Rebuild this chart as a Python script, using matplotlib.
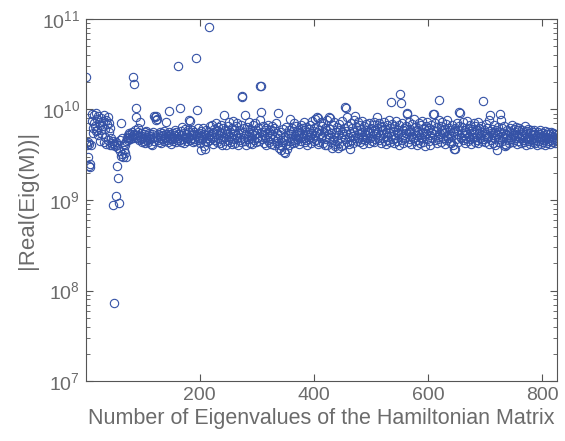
import matplotlib
matplotlib.use("Agg")
import matplotlib.pyplot as plt
import numpy as np
from matplotlib.ticker import LogLocator

plt.rcParams['font.family'] = ['Liberation Sans', 'DejaVu Sans']

# |Real(Eig(M))| in units of 1e9, index 1..826
eig_abs_e9 = [
    23, 4.3, 4.1, 4.4, 3.0, 2.4, 4.2, 2.3, 2.5, 4.0, 9.0, 7.5, 6.2, 5.5, 8.8, 7.0, 6.5, 5.8, 9.2, 7.8,
    6.0, 5.2, 8.5, 7.2, 6.8, 4.5, 5.9, 8.0, 6.6, 5.4, 7.4, 4.4, 8.6, 6.1, 5.0, 7.7, 4.2, 6.9, 8.2, 4.6,
    5.6, 7.1, 4.1, 6.3, 4.8, 4.3, 4.0, 0.88, 4.5, 0.072, 4.2, 3.9, 1.1, 4.4, 2.4, 4.1, 3.8, 1.75, 0.93, 4.6,
    3.5, 3.1, 7.1, 4.8, 3.2, 3.0, 4.2, 3.6, 4.0, 3.3, 3.0, 4.5, 4.8, 5.2, 4.6, 5.0, 5.5, 4.7, 5.3, 4.9,
    5.6, 5.1, 4.8, 23, 19, 5.4, 5.9, 10.3, 8.3, 5.2, 4.9, 5.7, 6.2, 4.6, 7.3, 5.0, 4.7, 5.5, 4.4, 5.1,
    4.8, 5.3, 4.5, 5.6, 4.3, 5.0, 5.8, 4.6, 5.2, 4.4, 4.9, 5.5, 4.7, 5.1, 4.2, 5.4, 4.0, 4.8, 5.7, 4.5,
    8.5, 8.2, 7.7, 8.4, 5.0, 7.8, 4.6, 5.3, 4.4, 5.6, 4.9, 5.1, 4.3, 5.5, 4.7, 5.2, 4.5, 5.8, 4.8, 5.0,
    7.3, 5.4, 4.6, 5.1, 4.4, 9.7, 5.6, 4.9, 5.3, 4.2, 5.0, 4.7, 5.5, 4.5, 5.2, 4.8, 6.0, 4.4, 5.7, 4.6,
    5.1, 30, 4.9, 5.4, 10.3, 4.6, 5.8, 4.4, 5.2, 6.4, 4.7, 5.5, 4.3, 5.0, 6.1, 4.8, 5.3, 4.5, 5.9, 4.9,
    5.6, 7.7, 4.6, 7.5, 5.2, 4.8, 6.0, 4.4, 5.4, 4.7, 5.7, 4.5, 5.1, 37, 9.9, 5.3, 4.6, 6.2, 4.9, 5.5,
    4.3, 5.8, 3.6, 5.0, 4.7, 6.3, 3.9, 5.4, 3.7, 4.5, 6.0, 5.2, 4.4, 5.7, 4.8, 82, 5.1, 6.5, 4.6, 5.3,
    6.8, 4.9, 5.6, 4.2, 6.1, 5.0, 4.6, 7.0, 5.4, 4.4, 5.9, 4.8, 6.4, 5.2, 4.3, 5.7, 6.7, 4.7, 5.5, 4.1,
    6.2, 8.7, 5.0, 4.5, 6.0, 5.3, 4.0, 5.8, 6.6, 4.6, 5.1, 7.2, 4.4, 5.6, 4.9, 6.3, 4.2, 5.4, 7.4, 4.7,
    5.9, 4.3, 6.5, 5.2, 4.8, 7.1, 4.1, 5.5, 6.0, 4.6, 5.0, 6.8, 4.4, 14, 13.6, 5.7, 4.9, 6.2, 4.5, 8.8,
    5.3, 4.0, 6.4, 5.1, 4.7, 7.3, 5.6, 4.3, 6.1, 4.9, 5.4, 4.2, 6.7, 5.8, 4.6, 5.2, 7.0, 4.4, 6.0, 5.5,
    4.8, 6.3, 5.0, 4.5, 7.6, 18, 9.3, 18.2, 5.7, 4.7, 6.5, 5.2, 4.3, 5.9, 4.9, 6.2, 4.1, 5.4, 6.8, 4.6,
    5.6, 4.4, 6.0, 5.1, 4.2, 6.6, 5.3, 4.7, 5.8, 4.0, 6.3, 5.0, 4.5, 7.0, 5.5, 4.3, 9.2, 4.8, 3.8, 5.2,
    4.1, 3.6, 5.7, 4.4, 3.9, 6.1, 4.6, 3.4, 3.3, 5.0, 4.2, 6.4, 3.7, 4.8, 5.5, 4.0, 6.0, 7.8, 4.5, 5.3,
    4.9, 6.2, 4.3, 5.8, 4.6, 7.1, 5.1, 4.4, 6.5, 5.6, 4.7, 5.2, 6.0, 4.2, 5.7, 4.9, 6.8, 4.5, 5.4, 6.3,
    4.8, 5.1, 7.2, 4.4, 5.9, 4.6, 6.4, 5.3, 4.1, 5.6, 6.1, 4.7, 5.0, 6.7, 4.3, 5.5, 7.5, 4.9, 5.8, 4.5,
    6.2, 5.2, 7.8, 4.6, 8.3, 5.7, 4.2, 8.0, 6.0, 4.4, 5.4, 7.3, 4.8, 6.6, 5.1, 4.3, 7.0, 5.6, 4.0, 6.3,
    4.7, 5.9, 7.6, 4.1, 5.3, 8.2, 4.9, 8.1, 6.1, 4.4, 5.5, 3.8, 6.8, 4.6, 5.0, 7.2, 4.2, 3.9, 5.7, 6.4,
    4.5, 3.8, 5.2, 6.9, 4.3, 6.0, 4.8, 3.9, 5.6, 7.4, 4.1, 5.3, 6.3, 10.7, 4.7, 10.5, 5.8, 8.3, 4.4, 6.6,
    5.0, 4.2, 3.7, 5.5, 7.0, 4.6, 6.2, 5.1, 4.3, 7.7, 5.7, 4.8, 8.5, 6.4, 4.5, 5.9, 7.2, 4.9, 5.3, 6.7,
    4.4, 5.6, 6.1, 4.7, 7.5, 5.0, 4.2, 6.5, 5.4, 4.6, 6.9, 5.2, 4.8, 6.0, 5.7, 4.3, 7.1, 5.5, 4.9, 6.3,
    5.1, 4.5, 6.8, 5.8, 4.4, 7.3, 6.0, 4.7, 5.4, 8.3, 6.2, 4.9, 5.6, 7.0, 4.6, 5.2, 6.6, 4.3, 5.9, 6.4,
    4.8, 5.3, 7.2, 4.5, 6.1, 5.7, 4.2, 6.7, 5.0, 4.6, 7.6, 5.5, 4.4, 6.3, 5.1, 12.2, 6.9, 4.7, 5.8, 4.3,
    6.5, 5.2, 4.9, 7.4, 5.6, 4.5, 6.0, 5.3, 4.1, 6.8, 15, 11.7, 5.4, 4.6, 7.1, 5.9, 4.3, 6.2, 5.0, 4.8,
    6.6, 5.5, 9.0, 9.2, 4.4, 5.7, 7.3, 4.7, 6.1, 5.1, 4.2, 6.9, 5.4, 4.9, 7.8, 5.8, 4.5, 6.4, 5.2, 4.0,
    6.0, 5.6, 4.6, 7.0, 5.3, 4.3, 6.7, 5.0, 4.8, 7.5, 5.7, 4.4, 6.2, 5.1, 3.9, 6.5, 5.5, 4.7, 7.2, 5.9,
    4.5, 6.3, 5.2, 4.1, 6.8, 5.6, 4.9, 9.0, 6.0, 8.9, 5.4, 4.6, 7.1, 5.8, 4.3, 6.4, 5.0, 4.7, 7.7, 12.7,
    5.3, 6.6, 4.4, 5.9, 7.3, 4.8, 5.5, 6.1, 4.2, 5.7, 6.9, 4.6, 5.2, 7.6, 4.9, 6.3, 5.4, 4.5, 6.0, 5.1,
    4.3, 6.7, 5.6, 4.0, 3.7, 5.8, 3.7, 6.2, 4.7, 5.3, 7.0, 4.4, 5.9, 6.5, 9.3, 9.1, 5.0, 4.8, 6.4, 5.5,
    4.6, 7.2, 5.2, 4.3, 6.0, 5.7, 4.9, 7.5, 5.4, 4.5, 6.3, 5.1, 4.7, 6.8, 5.8, 4.2, 6.1, 5.3, 4.8, 7.0,
    5.6, 4.4, 6.5, 5.0, 4.6, 5.9, 7.3, 4.3, 5.5, 6.2, 4.9, 5.2, 6.6, 4.5, 5.7, 4.7, 12.5, 6.0, 5.1, 4.4,
    6.9, 5.4, 4.8, 6.3, 5.0, 4.2, 7.6, 5.8, 8.7, 4.6, 5.5, 6.1, 4.3, 5.2, 6.7, 4.9, 5.6, 4.1, 6.0, 3.6,
    5.3, 4.7, 6.4, 5.0, 4.4, 9.0, 7.7, 5.7, 4.5, 6.2, 5.1, 4.8, 6.6, 4.2, 3.9, 5.4, 4.0, 6.0, 5.2, 4.6,
    5.8, 4.3, 6.3, 5.0, 4.7, 5.5, 6.8, 4.4, 5.2, 6.1, 4.6, 5.7, 4.9, 6.4, 4.2, 5.3, 5.9, 4.5, 5.0, 6.2,
    4.8, 5.4, 4.3, 6.0, 5.1, 4.6, 5.7, 4.4, 6.5, 4.9, 5.3, 4.1, 5.8, 4.7, 6.1, 5.0, 4.5, 5.5, 4.2, 5.9,
    4.7, 5.2, 4.4, 5.6, 4.9, 6.0, 4.3, 5.4, 4.6, 5.1, 4.0, 5.7, 4.8, 5.3, 4.5, 5.9, 4.2, 5.0, 4.7, 5.5,
    4.4, 5.2, 4.6, 5.8, 4.1, 5.0, 4.8, 5.4, 4.3, 5.6, 4.5, 4.9, 5.3, 4.2, 5.7, 4.6, 5.1, 4.4, 5.5, 4.7,
    5.0, 4.3, 5.4, 4.6, 4.9, 5.2,
]

eig_abs = np.array(eig_abs_e9) * 1e9
index = np.arange(1, len(eig_abs) + 1)

xticks = [200, 400, 600, 800]
xlabel = 'Number of Eigenvalues of the Hamiltonian Matrix'
ylabel = '|Real(Eig(M))|'

marker_color = '#3552a6'
text_color = '#6b6b6b'
axis_color = '#555555'

fig = plt.figure(figsize=(5.65, 4.41), dpi=100)
ax = fig.add_axes([0.152, 0.136, 0.834, 0.821])

ax.semilogy(index, eig_abs, 'o', mfc='none', mec=marker_color, ms=6, mew=0.8)

ax.set_xlim(1, 826)
ax.set_ylim(1e7, 1e11)
ax.set_xticks(xticks)
ax.yaxis.set_major_locator(LogLocator(base=10, numticks=10))
ax.yaxis.set_minor_locator(LogLocator(base=10, subs=np.arange(2, 10), numticks=20))

ax.tick_params(which='both', direction='in', top=True, right=True,
               colors=axis_color, labelcolor=text_color, labelsize=14)
ax.tick_params(which='major', length=5, width=0.8, pad=4)
ax.tick_params(which='minor', length=3, width=0.6)
for s in ax.spines.values():
    s.set_color(axis_color)
    s.set_linewidth(0.8)

ax.set_xlabel(xlabel, fontsize=15.5, color=text_color, labelpad=3)
ax.set_ylabel(ylabel, fontsize=16, color=text_color, labelpad=3)

fig.savefig('out.png', dpi=100)
